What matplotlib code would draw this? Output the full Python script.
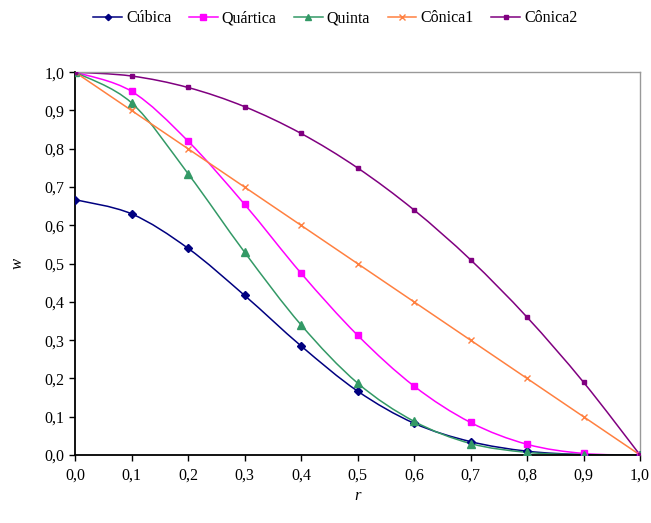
import numpy as np
import matplotlib
matplotlib.use('Agg')
import matplotlib.pyplot as plt
from matplotlib.path import Path
from matplotlib.patches import PathPatch
from matplotlib.lines import Line2D

plt.rcParams['font.family'] = ['Liberation Serif', 'DejaVu Serif']

r = [0.0, 0.1, 0.2, 0.3, 0.4, 0.5, 0.6, 0.7, 0.8, 0.9, 1.0]
cubica = [0.667, 0.630, 0.540, 0.417, 0.285, 0.167, 0.083, 0.035, 0.010, 0.001, 0.0]
quartica = [1.0, 0.950, 0.820, 0.655, 0.475, 0.313, 0.180, 0.085, 0.028, 0.004, 0.0]
quinta = [1.0, 0.920, 0.735, 0.530, 0.340, 0.188, 0.088, 0.030, 0.007, 0.001, 0.0]
conica1 = [1.0, 0.9, 0.8, 0.7, 0.6, 0.5, 0.4, 0.3, 0.2, 0.1, 0.0]
conica2 = [1.0, 0.99, 0.96, 0.91, 0.84, 0.75, 0.64, 0.51, 0.36, 0.19, 0.0]

series = [
    ('Cúbica', cubica, '#000080', 'D', 4),
    ('Quártica', quartica, '#FF00FF', 's', 5),
    ('Quinta', quinta, '#339966', '^', 6),
    ('Cônica1', conica1, '#FF8040', 'x', 5),
    ('Cônica2', conica2, '#800080', 's', 3.5),
]


def smooth_path(x, y):
    # Excel-like smoothed line: Catmull-Rom segments as cubic Bezier curves
    p = np.column_stack([x, y])
    n = len(p)
    verts = [p[0]]
    codes = [Path.MOVETO]
    for i in range(n - 1):
        p0 = p[i - 1] if i > 0 else p[i]
        p3 = p[i + 2] if i + 2 < n else p[i + 1]
        c1 = p[i] + (p[i + 1] - p0) / 6
        c2 = p[i + 1] - (p3 - p[i]) / 6
        verts += [c1, c2, p[i + 1]]
        codes += [Path.CURVE4] * 3
    return Path(verts, codes)


fig = plt.figure(figsize=(6.51, 5.23), dpi=100)
ax = fig.add_axes([0.1152, 0.130, 0.868, 0.732])

handles = []
for name, vals, color, marker, ms in series:
    ax.add_patch(PathPatch(smooth_path(r, vals), facecolor='none',
                           edgecolor=color, lw=1.1, zorder=2))
    ax.plot(r, vals, linestyle='none', marker=marker, color=color, ms=ms,
            mew=1.0, zorder=3)
    handles.append(Line2D([], [], color=color, marker=marker, ms=ms * 0.8, lw=1.1))

ticks = np.arange(0, 1.01, 0.1)
labels = [f'{v:.1f}'.replace('.', ',') for v in ticks]
ax.set_xlim(0, 1)
ax.set_ylim(0, 1)
ax.set_xticks(ticks)
ax.set_yticks(ticks)
ax.set_xticklabels(labels)
ax.set_yticklabels(labels)
ax.tick_params(direction='out', length=4, width=1, labelsize=11.5, colors='black')
ax.tick_params(axis='x', pad=5)

for s in ['left', 'bottom']:
    ax.spines[s].set_color('black')
    ax.spines[s].set_linewidth(1.3)
for s in ['top', 'right']:
    ax.spines[s].set_color('#999999')
    ax.spines[s].set_linewidth(1.0)

ax.set_xlabel('r', style='italic', fontsize=12, labelpad=3)
ax.set_ylabel('w', style='italic', fontsize=12, labelpad=14)

fig.legend(handles, [s[0] for s in series], loc='center', ncol=5,
           bbox_to_anchor=(0.515, 0.965), frameon=False, fontsize=11.5,
           handlelength=1.8, handletextpad=0.25, columnspacing=1.1)

fig.savefig('out.png', dpi=100)
